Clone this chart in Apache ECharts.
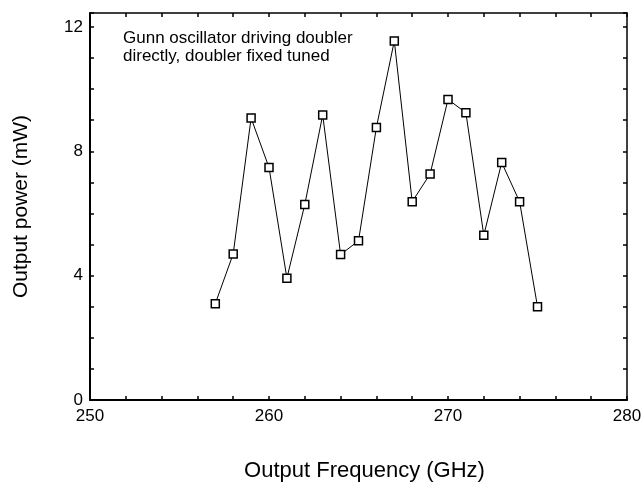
<!DOCTYPE html>
<html>
<head>
<meta charset="utf-8">
<script src="https://cdn.jsdelivr.net/npm/echarts@6/dist/echarts.min.js"></script>
<style>html,body{margin:0;padding:0;background:#fff}#c{width:642px;height:483px}</style>
</head>
<body>
<div id="c"></div>
<script>
const freqGHz = [257,258,259,260,261,262,263,264,265,266,267,268,269,270,271,272,273,274,275];
const powerMW = [3.1,4.7,9.07,7.48,3.92,6.29,9.17,4.68,5.12,8.77,11.55,6.38,7.27,9.67,9.24,5.3,7.64,6.38,3.0];
const xTickLabels = [250,260,270,280];
const yTickLabels = [0,4,8,12];
const annotation = ['Gunn oscillator driving doubler','directly, doubler fixed tuned'];

const chart = echarts.init(document.getElementById('c'));
const FONT = 'Liberation Sans, Arial, sans-serif';
const tickStyle = {show:true, inside:true, length:4, lineStyle:{color:'#000', width:1.5}};
chart.setOption({
  animation:false,
  backgroundColor:'#fff',
  grid:{left:90, right:15, top:13, bottom:83, show:false, containLabel:false, outerBoundsMode:'none'},
  title:{text:annotation.join('\n'), left:118, top:24,
    textStyle:{fontFamily:FONT, fontSize:17, fontWeight:'normal', color:'#000', lineHeight:18}},
  xAxis:[{
    type:'value', min:250, max:280, interval:2, position:'bottom',
    name:'Output Frequency (GHz)', nameLocation:'middle', nameGap:60,
    nameTextStyle:{fontFamily:FONT, fontSize:22, color:'#000', padding:[0,0,0,12]},
    axisLine:{show:true, lineStyle:{color:'#000', width:2}},
    axisTick:tickStyle, splitLine:{show:false},
    axisLabel:{margin:8, fontFamily:FONT, fontSize:17, color:'#000',
      formatter:v => xTickLabels.includes(v) ? String(v) : ''}
  },{
    type:'value', min:250, max:280, interval:2, position:'top',
    axisLine:{show:true, onZero:false, lineStyle:{color:'#000', width:1.5}},
    axisTick:tickStyle, axisLabel:{show:false}, splitLine:{show:false}
  }],
  yAxis:[{
    type:'value', min:0, max:12.45, interval:1, position:'left',
    name:'Output power (mW)', nameLocation:'middle', nameGap:58,
    nameTextStyle:{fontFamily:FONT, fontSize:21, color:'#000'},
    axisLine:{show:true, lineStyle:{color:'#000', width:2}},
    axisTick:tickStyle, splitLine:{show:false},
    axisLabel:{margin:7, fontFamily:FONT, fontSize:17, color:'#000',
      formatter:v => yTickLabels.includes(v) ? String(v) : ''}
  },{
    type:'value', min:0, max:12.45, interval:1, position:'right',
    axisLine:{show:true, onZero:false, lineStyle:{color:'#000', width:1.5}},
    axisTick:tickStyle, axisLabel:{show:false}, splitLine:{show:false}
  }],
  series:[{
    type:'line',
    data:freqGHz.map((f,i)=>[f,powerMW[i]]),
    symbol:'rect', symbolSize:8, showAllSymbol:true,
    lineStyle:{color:'#000', width:1},
    itemStyle:{color:'#fff', borderColor:'#000', borderWidth:1.5}
  }]
});
</script>
</body>
</html>
